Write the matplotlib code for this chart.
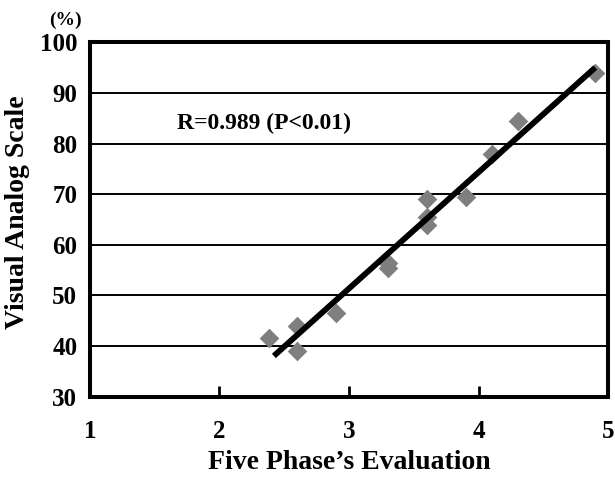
import numpy as np
import matplotlib.pyplot as plt

plt.rcParams['font.family'] = ['Liberation Serif', 'DejaVu Serif']
plt.rcParams['font.weight'] = 'bold'

# data
five_phase = [2.38, 2.6, 2.6, 2.9, 3.3, 3.3, 3.6, 3.6, 3.6, 3.9, 4.1, 4.3, 4.9]
vas = [41.5, 44.0, 39.0, 46.5, 56.5, 55.5, 69.0, 65.5, 64.0, 69.5, 78.0, 84.5, 94.0]
fit_range = [2.42, 4.9]
x_ticks = [1, 2, 3, 4, 5]
y_ticks = [30, 40, 50, 60, 70, 80, 90, 100]

fig = plt.figure(figsize=(6.15, 4.79), dpi=100)
ax = fig.add_axes([0.146, 0.172, 0.843, 0.7395])

# regression line
slope, icpt = np.polyfit(five_phase, vas, 1)
fx = np.array(fit_range)
ax.plot(fx, slope * fx + icpt, color='black', lw=4.2, solid_capstyle='butt', zorder=3)

ax.scatter(five_phase, vas, marker='D', s=100, color='#7f7f7f', zorder=2, linewidths=0)

ax.set_xlim(1, 5)
ax.set_ylim(30, 100)
ax.set_xticks(x_ticks)
ax.set_yticks(y_ticks)
ax.yaxis.grid(True, color='black', lw=1.4)
ax.set_axisbelow(True)
ax.tick_params(axis='x', direction='in', length=8, width=2, labelsize=18, pad=17)
ax.tick_params(axis='y', length=0, labelsize=18, pad=9)
for s in ax.spines.values():
    s.set_linewidth(2.9)

ax.set_xlabel('Five Phase\u2019s Evaluation', fontsize=20, fontweight='bold', labelpad=5)
ax.set_ylabel('Visual Analog Scale', fontsize=20, fontweight='bold')
ax.yaxis.set_label_coords(-0.116, 0.521)
ax.text(1.67, 83.9, 'R=0.989 (P<0.01)', fontsize=17, fontweight='bold', va='center')
fig.text(0.106, 0.958, '(%)', fontsize=14, fontweight='bold', ha='center', va='center')

fig.savefig('out.png', dpi=100)
